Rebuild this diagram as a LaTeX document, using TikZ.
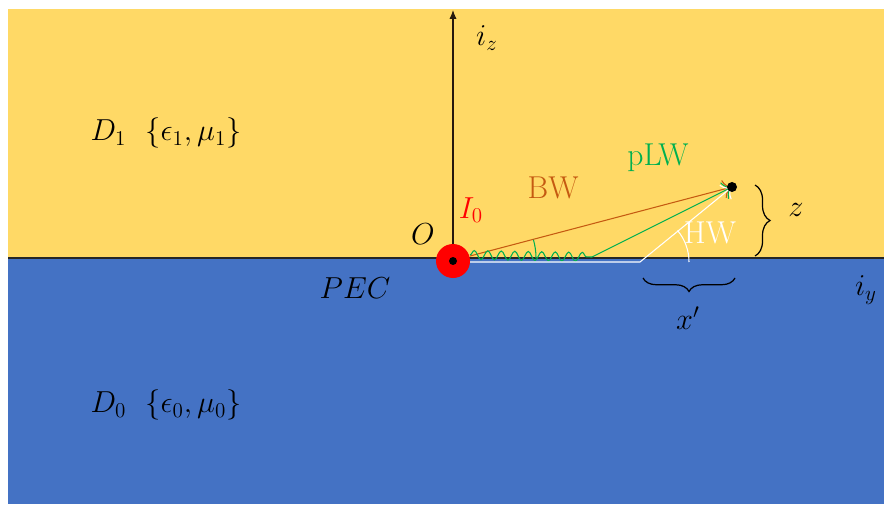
\documentclass[tikz,border=0pt]{standalone}
\usepackage{tikz}
\usetikzlibrary{arrows.meta,decorations.pathmorphing,decorations.pathreplacing}
\definecolor{gold}{HTML}{FFD966}
\definecolor{pecblue}{HTML}{4472C4}
\definecolor{bwcol}{HTML}{C55A11}
\definecolor{lwcol}{HTML}{00B050}

\begin{document}
\begin{tikzpicture}[x=0.02cm,y=0.02cm,line width=0.8pt,font=\fontsize{18}{21}\selectfont]
 \useasboundingbox (0,0) rectangle (884,504);
 % the two half spaces
 \fill[gold] (8,246) rectangle (884,495);
 \fill[pecblue] (8,0) rectangle (884,246);
 \draw[line width=1.3pt,black!85] (8,246)--(884,246);
 % points
 \coordinate (o) at (453,246);
 \coordinate (top) at (453,494);
 \coordinate (p) at (732,317);
 \coordinate (bwstart) at (470,248);
 \coordinate (lwstart) at (470,249);
 \coordinate (lwbend) at (592,247);
 \coordinate (hwstart) at (470,242);
 \coordinate (hwbend) at (640,242);
 % axis
 \draw[black!80!brown,line width=0.6pt,-{Latex[length=5pt,width=4pt]}] (o)--(top);
 \node (iz) at (487,466) {$i_z$};
 \node (iy) at (866,214) {$i_y$};
 % regions
 \foreach \n/\y in {1/371,0/99}{%
   \node (d\n) at (166,\y) {$D_\n\ \ \{\epsilon_\n,\mu_\n\}$};
 }
 \node (pec) at (355,216) {$PEC$};
 \node (orig) at (423,270) {$O$};
 \node[red] (cur) at (471,294) {$I_0$};
 % waves
 \draw[bwcol,line width=0.6pt,-{To[length=5pt]}] (bwstart)--(p);
 \draw[lwcol,line width=0.6pt,decorate,decoration={snake,segment length=0.27cm,amplitude=0.09cm}] (lwstart)--(lwbend);
 \draw[lwcol,line width=0.6pt,-{To[length=5pt]}] (lwbend)--(p);
 \draw[white,line width=0.6pt,-{To[length=5pt]}] (hwstart)--(hwbend)--(p);
 \draw[lwcol,line width=0.6pt] (536,246) arc[start angle=0,end angle=16,radius=66];
 \draw[white,line width=0.6pt] (689,242) arc[start angle=0,end angle=40,radius=49];
 \node[bwcol] (bw) at (553,316) {BW};
 \node[lwcol] (plw) at (658,346) {pLW};
 \node[white] (hw) at (710,271) {HW};
 % source and observation point
 \fill[red] (453,243) circle[radius=17];
 \fill[black] (453,243) circle[radius=4];
 \fill[black] (p) circle[radius=5];
 % distances
 \draw[line width=0.7pt,decorate,decoration={brace,amplitude=0.3cm}] (755,319)--(755,248);
 \node (z) at (796,294) {$z$};
 \draw[line width=0.7pt,decorate,decoration={brace,amplitude=0.27cm}] (735,226)--(643,226);
 \node (xp) at (688,186) {$x'$};
\end{tikzpicture}
\end{document}
